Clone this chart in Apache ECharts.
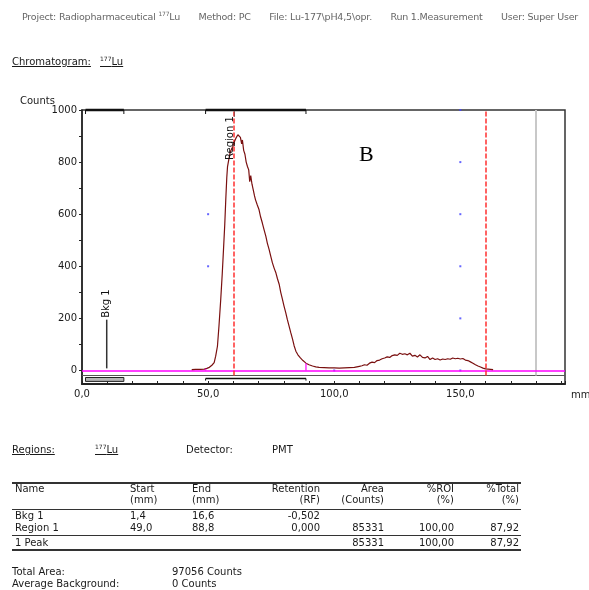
<!DOCTYPE html>
<html><head><meta charset="utf-8">
<script src="https://cdn.jsdelivr.net/npm/echarts@6/dist/echarts.min.js"></script>
<style>
html,body{margin:0;padding:0;background:#fff;width:589px;height:590px;overflow:hidden}
#chart{position:absolute;left:0;top:0;width:589px;height:590px}
.t{position:absolute;font-family:'DejaVu Sans',sans-serif;font-size:10px;line-height:12px;color:#1a1a1a;white-space:nowrap}
.u{text-decoration:underline}
sup{font-size:6px;vertical-align:4px;line-height:0}
.rule{position:absolute;left:12px;width:509px;background:#333}
#hdr{position:absolute;left:22px;top:11px;width:556px;display:flex;justify-content:space-between;font-family:'DejaVu Sans',sans-serif;font-size:9.5px;letter-spacing:-0.2px;line-height:12px;color:#666;white-space:nowrap}
</style></head><body>
<div id="chart"></div>
<div id="hdr"><span>Project: Radiopharmaceutical <sup>177</sup>Lu</span><span>Method: PC</span><span>File: Lu-177\pH4,5\opr.</span><span>Run 1.Measurement</span><span>User: Super User</span></div>
<div class="t u" style="left:12px;top:56px">Chromatogram:</div>
<div class="t u" style="left:100px;top:56px"><sup>177</sup>Lu</div>
<div class="t" style="left:20px;top:95px">Counts</div>
<div class="t" style="left:571px;top:389px">mm</div>
<div class="t" style="left:359px;top:141px;font-family:'Liberation Serif',serif;font-size:22px;line-height:26px;color:#000">B</div>

<div class="t u" style="left:12px;top:444px">Regions:</div>
<div class="t u" style="left:95px;top:444px"><sup>177</sup>Lu</div>
<div class="t" style="left:186px;top:444px">Detector:</div>
<div class="t" style="left:272px;top:444px">PMT</div>

<div class="rule" style="top:482px;height:2px"></div>
<div class="t" style="left:15px;top:483px">Name</div>
<div class="t" style="left:130px;top:483px">Start</div>
<div class="t" style="left:130px;top:494px">(mm)</div>
<div class="t" style="left:192px;top:483px">End</div>
<div class="t" style="left:192px;top:494px">(mm)</div>
<div class="t" style="right:269px;top:483px">Retention</div>
<div class="t" style="right:269px;top:494px">(RF)</div>
<div class="t" style="right:205px;top:483px">Area</div>
<div class="t" style="right:205px;top:494px">(Counts)</div>
<div class="t" style="right:135px;top:483px">%ROI</div>
<div class="t" style="right:135px;top:494px">(%)</div>
<div class="t" style="right:70px;top:483px">%Total</div>
<div class="t" style="right:70px;top:494px">(%)</div>
<div class="rule" style="top:509px;height:1px"></div>
<div class="t" style="left:15px;top:510px">Bkg 1</div>
<div class="t" style="left:130px;top:510px">1,4</div>
<div class="t" style="left:192px;top:510px">16,6</div>
<div class="t" style="right:269px;top:510px">-0,502</div>
<div class="t" style="left:15px;top:522px">Region 1</div>
<div class="t" style="left:130px;top:522px">49,0</div>
<div class="t" style="left:192px;top:522px">88,8</div>
<div class="t" style="right:269px;top:522px">0,000</div>
<div class="t" style="right:205px;top:522px">85331</div>
<div class="t" style="right:135px;top:522px">100,00</div>
<div class="t" style="right:70px;top:522px">87,92</div>
<div class="rule" style="top:535px;height:1px"></div>
<div class="t" style="left:15px;top:537px">1 Peak</div>
<div class="t" style="right:205px;top:537px">85331</div>
<div class="t" style="right:135px;top:537px">100,00</div>
<div class="t" style="right:70px;top:537px">87,92</div>
<div class="rule" style="top:549px;height:2px"></div>

<div class="t" style="left:12px;top:566px">Total Area:</div>
<div class="t" style="left:172px;top:566px">97056 Counts</div>
<div class="t" style="left:12px;top:578px">Average Background:</div>
<div class="t" style="left:172px;top:578px">0 Counts</div>

<script>
// ---- data ----
const positions = [43.5,45,47,48.5,49.5,50.5,51.5,52.4,53,53.7,54.3,55,55.6,56.1,56.6,57,57.4,57.7,58.3,58.8,59.3,59.8,60.5,61.2,61.8,62.3,62.8,63.3,63.6,64.1,64.6,65.1,65.6,66.1,66.5,66.9,67.4,67.9,68.4,68.8,69.5,70.2,70.8,71.5,72.2,72.9,73.5,74.2,74.8,75.5,76.2,76.9,77.5,78.2,78.8,79.5,80.1,80.8,81.4,82.1,82.8,83.5,84.1,84.8,85.6,86.5,87.6,88.8,90,91.4,92.7,94,96,98,100,102,104,106,108,110,111,112,113,114,115,116,117,118,119,120,121,122,123,124,125,126,127,128,129,130,131,132,133,134,135,136,137,138,139,140,141,142,143,144,145,146,147,148,149,150,151,152,153,154,155,156,157,158,159,160,161,162,163];
const counts = [3,4,4,5,8,12,20,30,55,93,170,272,370,464,560,655,740,783,815,840,838,860,880,895,905,912,895,870,885,845,830,800,783,770,725,748,715,693,670,655,635,617,590,566,540,515,488,464,440,413,392,374,352,330,300,272,247,221,196,170,144,119,95,74,60,49,38,28,22,17,14,12,11,10,10,9,10,11,12,16,18,22,20,28,32,30,38,40,45,48,52,50,57,60,58,66,62,64,60,66,55,58,52,60,50,48,54,42,48,42,45,40,44,42,45,43,48,45,47,44,46,40,38,33,28,22,17,13,9,6,5,4,3];
const yTickValues = [0,100,200,300,400,500,600,700,800,900,1000];
const yLabelValues = [0,200,400,600,800,1000];
const xLabelValues = [0,50,100,150];
const regionNames = ['Bkg 1','Region 1'];
const regionStart = [1.4, 49.0];
const regionEnd = [16.6, 88.8];
const regionRF = [-0.502, 0.000];
const regionKind = ['bkg','peak'];
const originMM = 60, frontMM = 160, markerMM = 180;
const gridDots = [[50,1000],[50,600],[50,400],[150,1000],[150,800],[150,600],[150,400],[150,200],[100,0],[150,0]];

// axis extents
const xMin = 0, xMax = 191.5, yMin = -52, yMax = 1000, boxBottom = -19;

function valueAt(x){
  for (let i=1;i<positions.length;i++){
    if (positions[i] >= x){
      const t = (x-positions[i-1])/(positions[i]-positions[i-1]);
      return counts[i-1] + t*(counts[i]-counts[i-1]);
    }
  }
  return 0;
}

const chart = echarts.init(document.getElementById('chart'), null, {renderer:'canvas'});
const FONT = 'DejaVu Sans';
const lineData = positions.map((p,i)=>[p, counts[i]]);

const option = {
  animation: false,
  backgroundColor: '#fff',
  grid: {left: 82, top: 110, width: 483, height: 274, show: true, borderColor: '#333', borderWidth: 1.5, backgroundColor: 'transparent'},
  xAxis: {
    type: 'value', min: xMin, max: xMax, interval: 10,
    axisLine: {show: true, onZero: false, lineStyle: {color: '#222', width: 2}},
    axisTick: {show: true, inside: true, length: 3, lineStyle: {color: '#222'}},
    axisLabel: {customValues: xLabelValues, formatter: v => v.toFixed(1).replace('.', ','), fontFamily: FONT, fontSize: 10, color: '#1a1a1a', margin: 5},
    splitLine: {show: false}
  },
  yAxis: {
    type: 'value', min: yMin, max: yMax,
    axisLine: {show: true, onZero: false, lineStyle: {color: '#222', width: 1.5}},
    axisTick: {show: true, customValues: yTickValues, length: 3, lineStyle: {color: '#222'}},
    axisLabel: {customValues: yLabelValues, formatter: v => String(v), fontFamily: FONT, fontSize: 10, color: '#1a1a1a', margin: 5},
    splitLine: {show: false}
  },
  series: [
    {
      type: 'line', name: 'Counts', data: lineData, showSymbol: false, z: 5,
      lineStyle: {color: '#7a1010', width: 1.2},
      markLine: {
        silent: true, symbol: 'none', animation: false, label: {show: false},
        data: [
          [{coord: [xMin, boxBottom], lineStyle: {color: '#555', width: 1, type: 'solid'}}, {coord: [xMax, boxBottom]}],
          [{coord: [markerMM, boxBottom], lineStyle: {color: '#c8c8c8', width: 2, type: 'solid'}}, {coord: [markerMM, yMax]}],
          [{coord: [xMin, 0], lineStyle: {color: '#ff00ff', width: 1.5, type: 'solid'}}, {coord: [xMax, 0]}],
          [{coord: [originMM, boxBottom], lineStyle: {color: '#ff3030', width: 1.5, type: [5, 2]}}, {coord: [originMM, yMax]}],
          [{coord: [frontMM, boxBottom], lineStyle: {color: '#ff3030', width: 1.5, type: [5, 2]}}, {coord: [frontMM, yMax]}]
        ]
      }
    },
    {
      type: 'scatter', name: 'grid', data: gridDots, symbol: 'rect', symbolSize: 2, z: 3,
      itemStyle: {color: '#4040ff'}, silent: true
    },
    {
      type: 'custom', name: 'regions', z: 6, clip: false, silent: true,
      data: regionNames.map((n,i)=>[regionStart[i], regionEnd[i]]),
      encode: {x: [0,1]},
      renderItem: function(params, api){
        const i = params.dataIndex;
        const s = regionStart[i], e = regionEnd[i];
        const ch = [];
        const ts = api.coord([s, yMax]), te = api.coord([e, yMax]);
        ch.push({type:'line', shape:{x1:ts[0], y1:ts[1], x2:te[0], y2:te[1]}, style:{stroke:'#111', lineWidth:2.5}});
        ch.push({type:'line', shape:{x1:ts[0], y1:ts[1], x2:ts[0], y2:ts[1]+4}, style:{stroke:'#111', lineWidth:1}});
        ch.push({type:'line', shape:{x1:te[0], y1:te[1], x2:te[0], y2:te[1]+4}, style:{stroke:'#111', lineWidth:1}});
        if (regionKind[i] === 'bkg'){
          const a = api.coord([s, -27]), b = api.coord([e, -42]);
          ch.push({type:'rect', shape:{x:a[0], y:a[1], width:b[0]-a[0], height:b[1]-a[1]}, style:{fill:'#b4b4b4', stroke:'#222', lineWidth:1}});
          const lx = originMM + regionRF[i]*(frontMM-originMM);
          const p0 = api.coord([lx, 8]), p1 = api.coord([lx, 195]);
          ch.push({type:'line', shape:{x1:p0[0], y1:p0[1], x2:p1[0], y2:p1[1]}, style:{stroke:'#333', lineWidth:1.5}});
          const pt = api.coord([lx, 202]);
          ch.push({type:'text', x: pt[0], y: pt[1], rotation: Math.PI/2, style:{text: regionNames[i], fill:'#111', font:'10px "DejaVu Sans"', align:'left', verticalAlign:'middle'}});
        } else {
          const a = api.coord([s, -31]), b = api.coord([e, -31]), c = api.coord([s, -39]);
          ch.push({type:'line', shape:{x1:a[0], y1:a[1], x2:b[0], y2:b[1]}, style:{stroke:'#111', lineWidth:1.5}});
          ch.push({type:'line', shape:{x1:a[0], y1:a[1], x2:a[0], y2:c[1]}, style:{stroke:'#111', lineWidth:1}});
          ch.push({type:'line', shape:{x1:b[0], y1:b[1], x2:b[0], y2:c[1]}, style:{stroke:'#111', lineWidth:1}});
          [s, e].forEach(xv => {
            const q0 = api.coord([xv, 0]), q1 = api.coord([xv, valueAt(xv)]);
            ch.push({type:'line', shape:{x1:q0[0], y1:q0[1], x2:q1[0], y2:q1[1]}, style:{stroke:'#ff00ff', lineWidth:1.2}});
          });
          const lx = originMM + regionRF[i]*(frontMM-originMM);
          const pt = api.coord([lx, 808]);
          const d0 = api.coord([lx, 975]), d1 = api.coord([lx, yMax]);
          ch.push({type:'line', shape:{x1:d0[0]+1, y1:d0[1], x2:d1[0]+1, y2:d1[1]}, style:{stroke:'#222', lineWidth:1, lineDash:[1,1]}});
          ch.push({type:'text', x: pt[0]+2, y: pt[1], rotation: Math.PI/2, style:{text: regionNames[i], fill:'#111', font:'10px "DejaVu Sans"', align:'left', verticalAlign:'bottom'}});
        }
        return {type:'group', children: ch};
      }
    }
  ]
};
chart.setOption(option);
</script>
</body></html>
